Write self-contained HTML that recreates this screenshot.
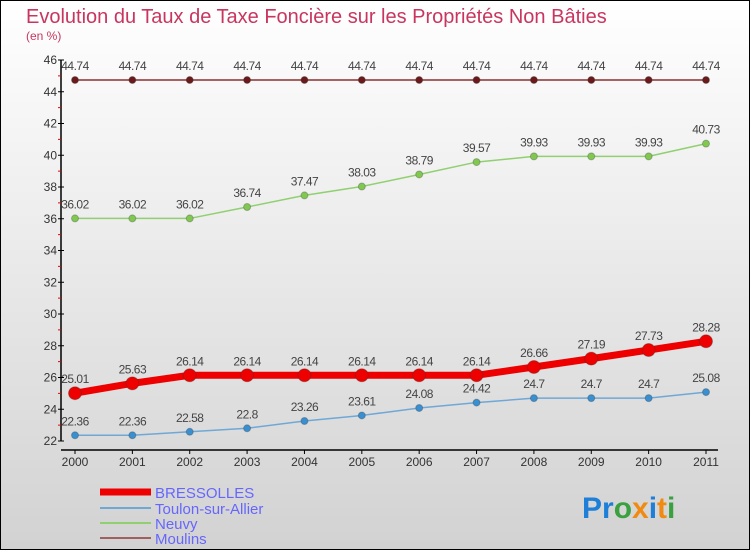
<!DOCTYPE html>
<html><head><meta charset="utf-8"><style>
body{margin:0;}
#c{width:750px;height:550px;position:relative;overflow:hidden;}
svg{font-family:"Liberation Sans",sans-serif;}
</style></head><body>
<div id="c">
<svg id="s" width="750" height="550" xmlns="http://www.w3.org/2000/svg">
<defs><linearGradient id="bg" x1="0" y1="0" x2="0" y2="1"><stop offset="0" stop-color="#ffffff"/><stop offset="1" stop-color="#d2d2d2"/></linearGradient></defs>
<rect x="0.5" y="0.5" width="749" height="549" fill="url(#bg)" stroke="#000"/>
<text x="26" y="23" font-size="20" fill="#c8365f">Evolution du Taux de Taxe Foncière sur les Propriétés Non Bâties</text>
<text x="26" y="40" font-size="12" fill="#c8365f">(en %)</text>
<g id="axes"></g><g id="series"></g>
<g>
<line x1="100" y1="492" x2="151" y2="492" stroke="#e00" stroke-width="7"/>
<text x="155" y="498" font-size="15" fill="#6666ff">BRESSOLLES</text>
<line x1="100" y1="508" x2="151" y2="508" stroke="#6fa8d6" stroke-width="2"/>
<text x="155" y="514" font-size="15" fill="#6666ff">Toulon-sur-Allier</text>
<line x1="100" y1="523" x2="151" y2="523" stroke="#90d070" stroke-width="2"/>
<text x="155" y="529" font-size="15" fill="#6666ff">Neuvy</text>
<line x1="100" y1="538" x2="151" y2="538" stroke="#a06060" stroke-width="2"/>
<text x="155" y="544" font-size="15" fill="#6666ff">Moulins</text>
</g>
<text x="582" y="518" font-size="30" font-weight="bold"><tspan fill="#1e7fd8">Pr</tspan><tspan fill="#3aa040">o</tspan><tspan fill="#f08a10">x</tspan><tspan fill="#1e7fd8">i</tspan><tspan fill="#f08a10">t</tspan><tspan fill="#3aa040">i</tspan></text>
</svg></div>
<script>
const years=[2000,2001,2002,2003,2004,2005,2006,2007,2008,2009,2010,2011];
const bressolles=[25.01,25.63,26.14,26.14,26.14,26.14,26.14,26.14,26.66,27.19,27.73,28.28];
const toulon=[22.36,22.36,22.58,22.8,23.26,23.61,24.08,24.42,24.7,24.7,24.7,25.08];
const neuvy=[36.02,36.02,36.02,36.74,37.47,38.03,38.79,39.57,39.93,39.93,39.93,40.73];
const moulins=[44.74,44.74,44.74,44.74,44.74,44.74,44.74,44.74,44.74,44.74,44.74,44.74];
const yTicks=[22,24,26,28,30,32,34,36,38,40,42,44,46];
const NS="http://www.w3.org/2000/svg";
const X=i=>75+i*(706-75)/(years.length-1);
const Y=v=>441-(v-22)*(441-60)/24;
function mk(p,t,a){const e=document.createElementNS(NS,t);for(const k in a)e.setAttribute(k,a[k]);p.appendChild(e);return e;}
const ax=document.getElementById('axes');
let l=mk(ax,'line',{x1:61,y1:60,x2:61,y2:441,stroke:'#000','stroke-width':1.5});

l=mk(ax,'line',{x1:61,y1:450,x2:718,y2:450,stroke:'#000','stroke-width':1.5});

yTicks.forEach((v,i)=>{
 mk(ax,'line',{x1:58,y1:Y(v),x2:64,y2:Y(v),stroke:'#000'});
 if(i<yTicks.length-1)mk(ax,'line',{x1:58,y1:Y(v+1),x2:61,y2:Y(v+1),stroke:'#e00'});
 const t=mk(ax,'text',{x:57,y:Y(v)+4,'font-size':12,'text-anchor':'end',fill:'#333'});
 t.textContent=v;
 
});
years.forEach((yr,i)=>{
 mk(ax,'line',{x1:X(i),y1:450,x2:X(i),y2:454,stroke:'#000'});
 const t=mk(ax,'text',{x:X(i),y:466,'font-size':12,'text-anchor':'middle',fill:'#333'});
 t.textContent=yr;
 
});
const sg=document.getElementById('series');
function series(name,data,color,w,r,dot){
 const g=mk(sg,'g',{});
 
 const p=mk(g,'polyline',{points:data.map((v,i)=>X(i)+','+Y(v)).join(' '),fill:'none',stroke:color,'stroke-width':w,'stroke-linejoin':'round'});
 
 data.forEach((v,i)=>{
  const c=mk(g,'circle',{cx:X(i),cy:Y(v),r:r,fill:dot,stroke:'#333','stroke-opacity':0.3});
  
  const t=mk(g,'text',{x:X(i),y:Y(v)-10,'font-size':12,'text-anchor':'middle',fill:'#444','letter-spacing':'-0.5'});
  t.textContent=String(v).replace('.','.');
  
 });
}
series('moulins',moulins,'#8a3030',1.5,3.5,'#6b1a1a');
series('neuvy',neuvy,'#90d070',1.5,3.5,'#80c850');
series('toulon',toulon,'#6fa8d6',1.5,3.5,'#3a8fd0');
series('bressolles',bressolles,'#ee0000',7,6.5,'#ee0000');
</script>
</body></html>
